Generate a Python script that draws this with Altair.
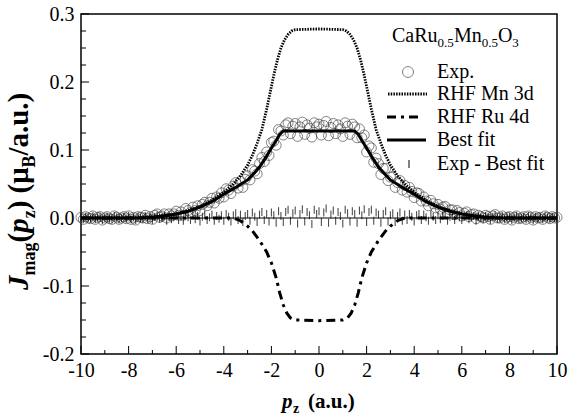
import altair as alt
import numpy as np
import pandas as pd

W, H = 476, 340
SERIF = "Liberation Serif"

# ---------------- data ----------------
p_exp = np.round(np.arange(-10.0, 10.0001, 0.1), 1)

exp_vals = [
    0.001, -0.002, 0.002, 0.000, -0.001, 0.003, -0.002, 0.001, 0.002, -0.003,
    0.000, 0.002, -0.001, -0.002, 0.003, 0.001, -0.002, 0.000, 0.002, -0.001,
    0.003, -0.002, 0.001, -0.003, 0.002, 0.001, 0.000, 0.004, -0.001, 0.002,
    -0.002, 0.004, 0.006, 0.001, 0.003, 0.006, 0.000, 0.006, 0.003, 0.006,
    0.010, 0.004, 0.009, 0.004, 0.014, 0.011, 0.008, 0.016, 0.011, 0.018,
    0.011, 0.020, 0.023, 0.018, 0.023, 0.029, 0.022, 0.031, 0.029, 0.037,
    0.031, 0.043, 0.041, 0.036, 0.047, 0.052, 0.044, 0.054, 0.045, 0.057,
    0.062, 0.056, 0.071, 0.069, 0.065, 0.080, 0.089, 0.083, 0.097, 0.092,
    0.111, 0.113, 0.107, 0.130, 0.128, 0.122, 0.137, 0.140, 0.124, 0.135,
    0.139, 0.120, 0.134, 0.141, 0.123, 0.137, 0.132, 0.119, 0.140, 0.134,
    0.138, 0.122, 0.136, 0.142, 0.121, 0.133, 0.139, 0.124, 0.137, 0.131,
    0.120, 0.140, 0.135, 0.123, 0.138, 0.134, 0.118, 0.131, 0.118, 0.122,
    0.097, 0.106, 0.103, 0.082, 0.088, 0.080, 0.064, 0.073, 0.073, 0.055,
    0.060, 0.061, 0.045, 0.052, 0.055, 0.041, 0.048, 0.038, 0.045, 0.039,
    0.030, 0.037, 0.036, 0.025, 0.031, 0.025, 0.018, 0.026, 0.021, 0.015,
    0.020, 0.013, 0.016, 0.017, 0.007, 0.012, 0.012, 0.005, 0.011, 0.008,
    0.003, 0.007, 0.009, 0.002, 0.005, 0.006, -0.001, 0.004, 0.002, 0.000,
    0.004, 0.002, -0.002, 0.003, 0.005, 0.000, 0.000, 0.003, -0.002, 0.001,
    0.002, -0.003, 0.001, 0.003, -0.001, 0.000, 0.002, -0.002, 0.003, 0.001,
    -0.003, 0.002, 0.000, 0.001, -0.002, 0.003, 0.001, -0.001, 0.002, 0.000, 0.001,
]

res_vals = [
    0.001, -0.002, 0.002, 0.000, -0.001, 0.003, -0.002, 0.001, 0.002, -0.003,
    0.000, 0.002, -0.001, -0.002, 0.003, 0.001, -0.002, 0.000, 0.002, -0.001,
    0.003, -0.002, 0.001, -0.003, 0.002, 0.000, -0.001, 0.003, -0.002, 0.001,
    -0.003, 0.002, 0.004, -0.001, 0.000, 0.003, -0.004, 0.002, -0.002, 0.001,
    0.004, -0.003, 0.002, -0.004, 0.005, 0.001, -0.003, 0.004, -0.002, 0.003,
    -0.005, 0.002, 0.004, -0.003, 0.001, 0.005, -0.004, 0.003, -0.001, 0.004,
    -0.004, 0.006, 0.002, -0.005, 0.004, 0.007, -0.003, 0.005, -0.006, 0.003,
    0.006, -0.004, 0.008, 0.002, -0.006, 0.005, 0.009, -0.003, 0.006, -0.005,
    0.008, 0.004, -0.007, 0.010, 0.003, -0.006, 0.009, 0.012, -0.004, 0.007,
    0.011, -0.008, 0.006, 0.013, -0.005, 0.009, 0.004, -0.009, 0.012, 0.006,
    0.010, -0.006, 0.008, 0.014, -0.007, 0.005, 0.011, -0.004, 0.009, 0.003,
    -0.008, 0.012, 0.007, -0.005, 0.010, 0.006, -0.007, 0.011, 0.004, 0.013,
    -0.006, 0.009, 0.012, -0.004, 0.008, 0.005, -0.007, 0.006, 0.010, -0.005,
    0.004, 0.007, -0.006, 0.003, 0.008, -0.004, 0.005, -0.003, 0.006, 0.002,
    -0.005, 0.004, 0.006, -0.003, 0.005, 0.001, -0.004, 0.005, 0.002, -0.003,
    0.004, -0.002, 0.003, 0.005, -0.004, 0.002, 0.003, -0.003, 0.004, 0.001,
    -0.003, 0.002, 0.004, -0.002, 0.001, 0.003, -0.004, 0.002, 0.000, -0.002,
    0.003, 0.001, -0.003, 0.002, 0.004, -0.001, 0.000, 0.003, -0.002, 0.001,
    0.002, -0.003, 0.001, 0.003, -0.001, 0.000, 0.002, -0.002, 0.003, 0.001,
    -0.003, 0.002, 0.000, 0.001, -0.002, 0.003, 0.001, -0.001, 0.002, 0.000, 0.001,
]

fit_p = [-10, -7.5, -7, -6.5, -6, -5.5, -5, -4.5, -4, -3.5, -3, -2.7, -2.5, -2.2, -2, -1.8, -1.65, -1.5,
         1.5, 1.65, 1.8, 2, 2.2, 2.5, 2.7, 3, 3.5, 4, 4.5, 5, 5.5, 6, 6.5, 7, 7.5, 10]
fit_v = [0.000, 0.000, 0.001, 0.003, 0.006, 0.010, 0.016, 0.024, 0.035, 0.045, 0.056, 0.067, 0.075, 0.091,
         0.103, 0.114, 0.123, 0.128,
         0.128, 0.123, 0.114, 0.103, 0.091, 0.075, 0.067, 0.056, 0.045, 0.035, 0.024, 0.016, 0.010, 0.006,
         0.003, 0.001, 0.000, 0.000]

mn_p = [-10, -8, -7, -6, -5.5, -5, -4.5, -4, -3.6, -3.3, -3.0, -2.8, -2.6, -2.4, -2.2, -2.05, -1.9, -1.75,
        -1.6, -1.45, -1.3, -1.15, -1.0, 0,
        1.0, 1.15, 1.3, 1.45, 1.6, 1.75, 1.9, 2.05, 2.2, 2.4, 2.6, 2.8, 3.0, 3.3, 3.6, 4, 4.5,
        5, 5.5, 6, 7, 8, 10]
mn_v = [0.000, 0.000, 0.002, 0.006, 0.011, 0.017, 0.026, 0.038, 0.050, 0.062, 0.078, 0.092, 0.110, 0.130,
        0.160, 0.185, 0.210, 0.232, 0.250, 0.262, 0.270, 0.275, 0.277, 0.278,
        0.277, 0.275, 0.270, 0.262, 0.250, 0.232, 0.210, 0.185, 0.160, 0.130, 0.110, 0.092, 0.078, 0.062,
        0.050, 0.038, 0.026, 0.017, 0.011, 0.006, 0.002, 0.000, 0.000]

ru_p = [-10, -3.6, -3.3, -3.0, -2.8, -2.5, -2.2, -2.0, -1.8, -1.65, -1.5, -1.35, -1.2, -1.0, 0,
        1.0, 1.2, 1.35, 1.5, 1.65, 1.8, 2.0, 2.2, 2.5, 2.8, 3.0, 3.3, 3.6, 10]
ru_v = [0.000, 0.000, -0.004, -0.012, -0.019, -0.033, -0.050, -0.066, -0.088, -0.110, -0.128, -0.140,
        -0.147, -0.150, -0.151, -0.150, -0.147, -0.140, -0.128, -0.110, -0.088, -0.066, -0.050, -0.033,
        -0.019, -0.012, -0.004, 0.000, 0.000]

x_major = [-10, -8, -6, -4, -2, 0, 2, 4, 6, 8, 10]
x_minor = [-9, -7, -5, -3, -1, 1, 3, 5, 7, 9]
y_major = [-0.2, -0.1, 0.0, 0.1, 0.2, 0.3]
y_minor = [-0.175, -0.15, -0.125, -0.075, -0.05, -0.025, 0.025, 0.05, 0.075,
           0.125, 0.15, 0.175, 0.225, 0.25, 0.275]

legend_labels = ["Exp.", "RHF Mn 3d", "RHF Ru 4d", "Best fit", "Exp - Best fit"]

# ---------------- scales / axes ----------------
xs = alt.Scale(domain=[-10, 10], nice=False, zero=False)
ys = alt.Scale(domain=[-0.2, 0.3], nice=False, zero=False)

X_AXIS = alt.Axis(values=x_major, title=None, ticks=False, domain=False, grid=False,
                  labelFont=SERIF, labelFontSize=20, labelColor="black", labelPadding=6,
                  labelFlush=False, labelOverlap=False,
                  labelExpr="(datum.value < 0 ? '-' : '') + format(abs(datum.value), 'd')")
Y_AXIS = alt.Axis(values=y_major, title=None, ticks=False, domain=False, grid=False,
                  labelFont=SERIF, labelFontSize=20, labelColor="black", labelPadding=7,
                  labelFlush=False, labelOverlap=False,
                  labelExpr="(datum.value < 0 ? '-' : '') + format(abs(datum.value), '.1f')")


def X(f):
    return alt.X(f, scale=xs, axis=X_AXIS, title=None)


def Y(f):
    return alt.Y(f, scale=ys, axis=Y_AXIS, title=None)


df_exp = pd.DataFrame({"p": p_exp, "J": exp_vals, "res": res_vals})
df_fit = pd.DataFrame({"p": fit_p, "J": fit_v})
df_mn = pd.DataFrame({"p": mn_p, "J": mn_v})
df_ru = pd.DataFrame({"p": ru_p, "J": ru_v})
one = pd.DataFrame({"a": [0]})

circles = alt.Chart(df_exp).mark_point(shape="circle", size=100, filled=False, stroke="#3a3a3a",
                                        strokeWidth=0.9).encode(x=X("p:Q"), y=Y("J:Q"))

zero_line = alt.Chart(pd.DataFrame({"z": [0.0]})).mark_rule(color="black", strokeWidth=1).encode(
    y=Y("z:Q"))

resid = alt.Chart(df_exp).mark_tick(orient="vertical", size=8, thickness=1.1, color="black").encode(
    x=X("p:Q"), y=Y("res:Q"))

mn_line = alt.Chart(df_mn).mark_line(color="black", strokeWidth=2.8, strokeDash=[1.5, 1.2]).encode(
    x=X("p:Q"), y=Y("J:Q"), order="p:Q")
ru_line = alt.Chart(df_ru).mark_line(color="black", strokeWidth=3, strokeDash=[9, 5, 3, 5]).encode(
    x=X("p:Q"), y=Y("J:Q"), order="p:Q")
fit_line = alt.Chart(df_fit).mark_line(color="black", strokeWidth=3).encode(
    x=X("p:Q"), y=Y("J:Q"), order="p:Q")


# inward ticks
def xticks(vals, ln):
    return alt.Chart(pd.DataFrame({"t": vals})).mark_rule(color="black", strokeWidth=1).encode(
        x=X("t:Q"), y=alt.value(H), y2=alt.value(H - ln))


def yticks(vals, ln):
    return alt.Chart(pd.DataFrame({"t": vals})).mark_rule(color="black", strokeWidth=1).encode(
        y=Y("t:Q"), x=alt.value(0), x2=alt.value(ln))


# ---------------- text helpers ----------------
def txt(s, x, y, size, bold=False, italic=False, angle=0, align="left", baseline="alphabetic"):
    kw = dict(text=s, font=SERIF, fontSize=size, color="black", align=align, baseline=baseline)
    if bold:
        kw["fontWeight"] = "bold"
    if italic:
        kw["fontStyle"] = "italic"
    if angle:
        kw["angle"] = angle
    return alt.Chart(one).mark_text(**kw).encode(x=alt.value(x), y=alt.value(y))


# y-axis title (rotated)
YB, YS = -53, -46
ytitle = [
    txt("J", YB, 276, 29, bold=True, italic=True, angle=270),
    txt("mag", YS, 261.5, 18, bold=True, angle=270),
    txt("(", YB, 228.5, 29, bold=True, angle=270),
    txt("p", YB, 218.8, 29, bold=True, italic=True, angle=270),
    txt("z", YS, 204.3, 18, bold=True, angle=270),
    txt(") (\u03bc", YB, 196.3, 29, bold=True, angle=270),
    txt("B", YS, 153.6, 18, bold=True, angle=270),
    txt("/a.u.)", YB, 141.6, 29, bold=True, angle=270),
]

# x-axis title
xtitle = [
    txt("p", 201, 394, 21, bold=True, italic=True),
    txt("z", 212, 399, 14, bold=True),
    txt("(a.u.)", 227, 394, 21, bold=True),
]

# legend
leg_title = [
    txt("CaRu", 311, 28, 20),
    txt("0.5", 356.6, 33, 13),
    txt("Mn", 372.9, 28, 20),
    txt("0.5", 400.7, 33, 13),
    txt("O", 416.9, 28, 20),
    txt("3", 431.3, 33, 13),
]
leg_y = [58, 80, 103, 126, 150]
leg_text = [txt(s, 356, yy, 20, baseline="middle") for s, yy in zip(legend_labels, leg_y)]

leg_circle = alt.Chart(one).mark_point(shape="circle", size=120, filled=False, stroke="#3a3a3a",
                                        strokeWidth=0.9).encode(x=alt.value(327), y=alt.value(leg_y[0]))
leg_mn = alt.Chart(one).mark_rule(color="black", strokeWidth=2.8, strokeDash=[1.5, 1.2]).encode(
    x=alt.value(307), x2=alt.value(346), y=alt.value(leg_y[1]))
leg_ru = alt.Chart(one).mark_rule(color="black", strokeWidth=3, strokeDash=[9, 5, 3, 5]).encode(
    x=alt.value(306), x2=alt.value(340), y=alt.value(leg_y[2]))
leg_fit = alt.Chart(one).mark_rule(color="black", strokeWidth=3).encode(
    x=alt.value(306), x2=alt.value(345), y=alt.value(leg_y[3]))
leg_res = alt.Chart(one).mark_rule(color="black", strokeWidth=1).encode(
    x=alt.value(328), y=alt.value(leg_y[4] - 4), y2=alt.value(leg_y[4] + 4))

layers = [circles, zero_line, resid, mn_line, ru_line, fit_line,
          xticks(x_major, 8), xticks(x_minor, 4), yticks(y_major, 8), yticks(y_minor, 5),
          leg_circle, leg_mn, leg_ru, leg_fit, leg_res] + ytitle + xtitle + leg_title + leg_text

chart = alt.layer(*layers).properties(
    width=W, height=H,
    padding={"left": 81, "top": 14, "right": 13, "bottom": 65},
    autosize=alt.AutoSizeParams(type="none"),
    background="white",
).configure_view(stroke="black", strokeWidth=1.5)

chart.save("out.html", embed_options={"renderer": "svg", "actions": False})
